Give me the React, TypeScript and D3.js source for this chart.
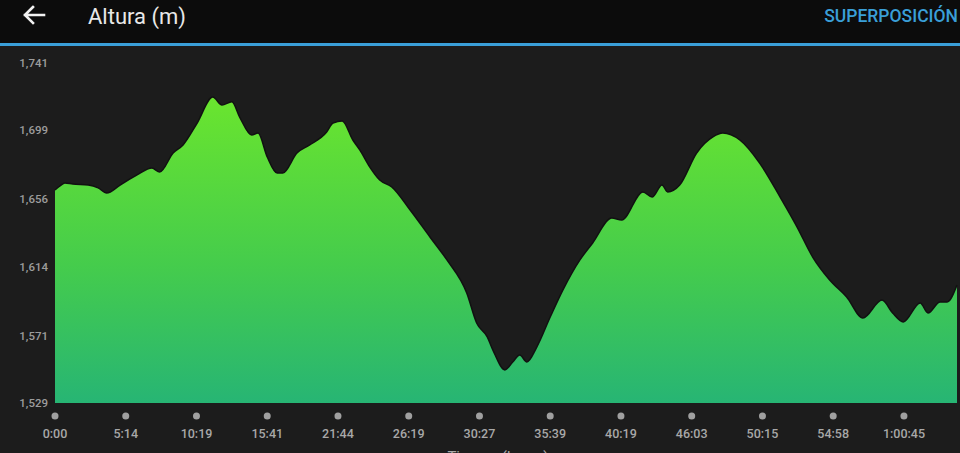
import { useEffect, useRef } from "react";
import * as d3 from "d3";

// x positions are in "tick units": tick i of the time axis sits at x = i
const timeLabels = [
  "0:00", "5:14", "10:19", "15:41", "21:44", "26:19", "30:27",
  "35:39", "40:19", "46:03", "50:15", "54:58", "1:00:45",
];
const yTicks = [1529, 1571, 1614, 1656, 1699, 1741];

const profileX = [
  0.0, 0.07, 0.14, 0.25, 0.47, 0.61, 0.73, 0.92, 1.16, 1.37, 1.48, 1.67, 1.81,
  2.01, 2.23, 2.36, 2.5, 2.61, 2.78, 2.87, 3.0, 3.14, 3.22, 3.42, 3.6, 3.84,
  3.93, 4.06, 4.21, 4.31, 4.45, 4.59, 4.76, 5.02, 5.3, 5.54, 5.82, 5.96, 6.11,
  6.19, 6.36, 6.47, 6.57, 6.67, 6.81, 7.0, 7.18, 7.42, 7.6, 7.87, 8.01, 8.31,
  8.44, 8.58, 8.66, 8.83, 9.07, 9.3, 9.44, 9.68, 9.96, 10.25, 10.49, 10.71,
  10.95, 11.19, 11.42, 11.69, 11.84, 11.99, 12.23, 12.34, 12.51, 12.61, 12.75,
];
const altitude = [
  1661.8, 1664.3, 1666.2, 1665.5, 1664.9, 1663.1, 1659.9, 1664.9, 1671.2,
  1675.5, 1673.0, 1684.9, 1689.9, 1703.6, 1719.8, 1714.8, 1716.8, 1707.3,
  1696.1, 1697.3, 1682.4, 1672.4, 1672.4, 1684.9, 1689.9, 1698.0, 1703.6,
  1704.8, 1693.0, 1686.7, 1676.1, 1668.0, 1663.7, 1649.3, 1632.5, 1618.2,
  1597.6, 1578.9, 1570.2, 1562.0, 1549.6, 1554.6, 1558.9, 1554.6, 1563.9,
  1582.6, 1599.5, 1618.2, 1628.8, 1644.3, 1643.1, 1660.6, 1657.4, 1664.9,
  1660.6, 1664.9, 1684.9, 1694.9, 1697.3, 1693.0, 1678.6, 1657.4, 1638.7,
  1620.0, 1605.7, 1595.1, 1582.0, 1593.2, 1585.1, 1579.5, 1591.4, 1585.1,
  1592.0, 1592.0, 1602.6,
];

const width = 960;
const height = 453;
const FONT = "Roboto, 'Noto Sans', sans-serif";

export default function App() {
  const ref = useRef<SVGSVGElement | null>(null);

  useEffect(() => {
    if (!ref.current) return;
    const svg = d3.select(ref.current);
    svg.selectAll("*").remove();

    const margin = { top: 63, right: 3, bottom: 50, left: 55 };

    // background + header
    svg.append("rect").attr("width", width).attr("height", height).attr("fill", "#1c1c1c");
    svg.append("rect").attr("width", width).attr("height", 43).attr("fill", "#0c0c0c");
    svg.append("rect").attr("y", 43).attr("width", width).attr("height", 3).attr("fill", "#3a9fd8");

    // back arrow
    svg.append("path")
      .attr("d", "M25,15 L44,15 M25,15 L33,7 M25,15 L33,23")
      .attr("stroke", "#f2f2f2")
      .attr("stroke-width", 2.6)
      .attr("fill", "none")
      .attr("stroke-linecap", "square");

    svg.append("text")
      .attr("x", 88)
      .attr("y", 24)
      .attr("fill", "#e8e8e8")
      .attr("font-family", FONT)
      .attr("font-size", 22)
      .text("Altura (m)");

    svg.append("text")
      .attr("x", 958)
      .attr("y", 22)
      .attr("text-anchor", "end")
      .attr("fill", "#3a9fd8")
      .attr("font-family", FONT)
      .attr("font-weight", 500)
      .attr("font-size", 17.5)
      .text("SUPERPOSICIÓN");

    const x = d3.scaleLinear()
      .domain([0, 12.75])
      .range([margin.left, width - margin.right]);

    const y = d3.scaleLinear()
      .domain([1529, 1741])
      .range([height - margin.bottom, margin.top]);

    const points = profileX.map((px, i) => ({ x: px, v: altitude[i] }));

    const grad = svg.append("defs").append("linearGradient")
      .attr("id", "altFill")
      .attr("gradientUnits", "userSpaceOnUse")
      .attr("x1", 0).attr("x2", 0)
      .attr("y1", y(1720)).attr("y2", y(1529));
    grad.append("stop").attr("offset", "0%").attr("stop-color", "#6ae52e");
    grad.append("stop").attr("offset", "55%").attr("stop-color", "#45cc4c");
    grad.append("stop").attr("offset", "100%").attr("stop-color", "#27b574");

    const area = d3.area<{ x: number; v: number }>()
      .x(d => x(d.x))
      .y0(y(1529))
      .y1(d => y(d.v))
      .curve(d3.curveMonotoneX);

    svg.append("path")
      .datum(points)
      .attr("d", area)
      .attr("fill", "url(#altFill)");

    const line = d3.line<{ x: number; v: number }>()
      .x(d => x(d.x))
      .y(d => y(d.v))
      .curve(d3.curveMonotoneX);

    svg.append("path")
      .datum(points)
      .attr("d", line)
      .attr("fill", "none")
      .attr("stroke", "#111")
      .attr("stroke-width", 1.5);

    // y labels
    svg.append("g")
      .selectAll("text")
      .data(yTicks)
      .enter()
      .append("text")
      .attr("x", 48)
      .attr("y", d => y(d) + 4)
      .attr("text-anchor", "end")
      .attr("fill", "#9c9c9c")
      .attr("font-family", FONT)
      .attr("font-weight", 500)
      .attr("font-size", 11.5)
      .text(d => d3.format(",")(d));

    // x ticks: dots + labels
    const xg = svg.append("g");
    xg.selectAll("circle")
      .data(timeLabels)
      .enter()
      .append("circle")
      .attr("cx", (_, i) => x(i))
      .attr("cy", 416)
      .attr("r", 3.5)
      .attr("fill", "#a0a0a0");

    xg.selectAll("text")
      .data(timeLabels)
      .enter()
      .append("text")
      .attr("x", (_, i) => x(i))
      .attr("y", 438)
      .attr("text-anchor", "middle")
      .attr("fill", "#a8a8a8")
      .attr("font-family", FONT)
      .attr("font-weight", 500)
      .attr("font-size", 12.5)
      .text(d => d);

    // axis title, cut off by the bottom edge as in the screenshot
    svg.append("text")
      .attr("x", 498)
      .attr("y", 462)
      .attr("text-anchor", "middle")
      .attr("fill", "#a8a8a8")
      .attr("font-family", FONT)
      .attr("font-size", 15)
      .text("Tiempo (h:m:s)");
  }, []);

  return (
    <div style={{ position: "absolute", left: 0, top: 0, width, height, overflow: "hidden" }}>
      <svg ref={ref} width={width} height={height} style={{ display: "block" }} />
    </div>
  );
}
